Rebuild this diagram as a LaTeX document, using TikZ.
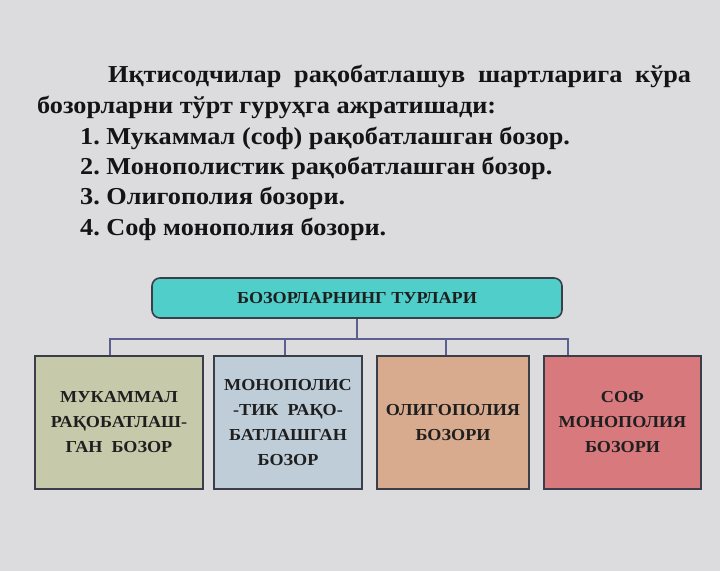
\documentclass[tikz,border=0pt]{standalone}
\usepackage{fontspec}
\setmainfont[FakeStretch=1.08]{Liberation Serif}
\usepackage{xcolor}
\usetikzlibrary{positioning,calc}
\frenchspacing

\definecolor{bgcol}{RGB}{220,220,222}
\definecolor{topcol}{RGB}{80,206,202}
\definecolor{perfcol}{RGB}{198,201,170}
\definecolor{monocol}{RGB}{190,205,216}
\definecolor{oligcol}{RGB}{216,170,142}
\definecolor{purecol}{RGB}{216,121,126}
\definecolor{edgecol}{RGB}{58,62,72}
\definecolor{linkcol}{RGB}{92,96,145}

\begin{document}
\begin{tikzpicture}[x=1pt,y=-1pt,
	intro/.style={anchor=base west,inner sep=0pt,text=black!92,font=\bfseries\fontsize{24.3}{28}\selectfont},
	item/.style={anchor=base west,inner sep=0pt,text=black!92,font=\bfseries\fontsize{24.3}{28}\selectfont},
	kind/.style={draw=edgecol,line width=1.6pt,minimum height=133pt,align=center,inner sep=2pt,text=black!88,font=\bfseries\fontsize{16.8}{25}\selectfont},
	link/.style={draw=linkcol,line width=1.6pt}]
			\fill[bgcol] (0,0) rectangle (720,571);
			\useasboundingbox (0,0) rectangle (720,571);
			% text
			\node[intro] (p1) at (108,82) {\makebox[583pt][s]{Иқтисодчилар рақобатлашув шартларига кўра}};
			\node[intro] (p2) at (37,113) {бозорларни тўрт гуруҳга ажратишади:};
			\node[item] (i1) at (80,144) {1. Мукаммал (соф) рақобатлашган бозор.};
			\node[item] (i2) at (80,174) {2. Монополистик рақобатлашган бозор.};
			\node[item] (i3) at (80,204) {3. Олигополия бозори.};
			\node[item] (i4) at (80,235) {4. Соф монополия бозори.};
			% boxes
			\node[draw=edgecol,line width=1.6pt,fill=topcol,rounded corners=8pt,minimum width=410pt,minimum height=40pt,text=black!88,font=\bfseries\fontsize{16.8}{20}\selectfont] (top) at (357,298) {БОЗОРЛАРНИНГ ТУРЛАРИ};
			\node[kind,fill=perfcol,minimum width=168pt] (b1) at (119,422.5) {МУКАММАЛ\\РАҚОБАТЛАШ-\\ГАН~~БОЗОР};
			\node[kind,fill=monocol,minimum width=148pt] (b2) at (288,422.5) {МОНОПОЛИС\\-ТИК~~РАҚО-\\БАТЛАШГАН\\БОЗОР};
			\node[kind,fill=oligcol,minimum width=152pt] (b3) at (453,422.5) {ОЛИГОПОЛИЯ\\БОЗОРИ};
			\node[kind,fill=purecol,minimum width=157pt] (b4) at (622.5,422.5) {СОФ\\МОНОПОЛИЯ\\БОЗОРИ};
			\coordinate (d1) at ($(b1.north west)+(76,0)$);
			\coordinate (d2) at ($(b2.north west)+(72,0)$);
			\coordinate (d3) at ($(b3.north west)+(70,0)$);
			\coordinate (d4) at ($(b4.north west)+(25,0)$);
			\draw[link] (top.south) -- ++(0,20) coordinate (bar);
			\draw[link] (d1) |- (bar) -| (d4);
			\draw[link] (d2) -- (d2 |- bar);
			\draw[link] (d3) -- (d3 |- bar);
		\end{tikzpicture}
\end{document}
